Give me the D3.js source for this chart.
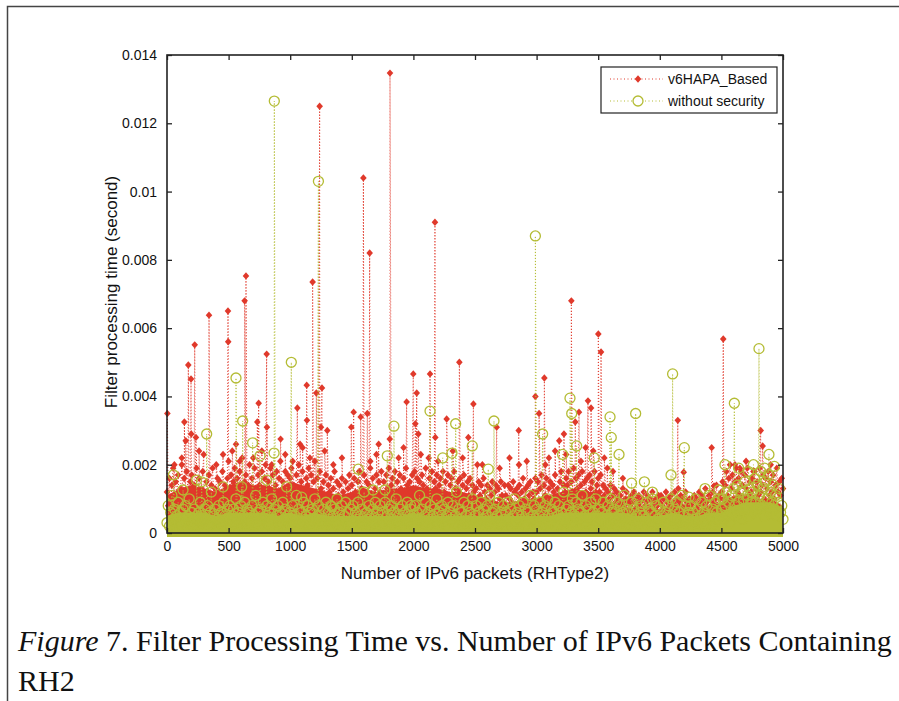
<!DOCTYPE html>
<html>
<head>
<meta charset="utf-8">
<script src="https://cdn.jsdelivr.net/npm/d3@7"></script>
<style>
  body { margin: 0; background: #fff; }
  svg { display: block; }
</style>
</head>
<body>
<script>
// values, times in milliseconds
// base band: one reading every 10 packets
var baseStep = 10;

var redBaseMs = [
  1.2,0.8,1.6,0.7,1.4,1.9,0.9,1.5,1.1,1.7,0.6,1.3,2.0,1.0,1.6,0.8,1.8,1.2,0.9,1.5,1.7,0.7,1.4,1.1,1.9,
  1.0,1.6,0.8,1.3,1.8,1.1,0.7,1.5,1.2,1.7,0.9,1.4,1.9,1.0,1.3,0.8,1.6,1.2,1.5,0.7,1.8,1.1,1.4,0.9,1.6,
  2.1,1.2,1.7,0.9,1.5,1.9,1.1,1.6,0.8,1.8,1.3,2.2,1.0,1.5,1.7,0.9,1.4,2.0,1.2,1.6,0.8,1.9,1.3,1.1,1.7,
  1.4,0.9,1.8,1.2,1.6,2.0,1.0,1.5,1.3,1.9,0.8,1.7,1.1,1.4,1.8,1.0,1.6,2.1,1.2,1.5,0.9,1.8,1.3,1.7,1.0,
  1.6,1.9,1.1,1.4,0.8,1.7,1.3,2.0,1.0,1.5,1.8,1.2,0.9,1.6,1.4,1.9,1.1,1.7,0.8,1.5,2.1,1.2,1.6,1.0,1.8,
  1.3,0.9,1.5,1.1,1.7,0.8,1.4,1.2,1.6,1.0,1.3,1.8,0.9,1.5,1.1,1.4,0.7,1.6,1.2,1.0,1.5,0.8,1.3,1.7,1.1,
  1.4,1.0,1.6,1.2,0.8,1.5,1.8,1.1,1.3,0.9,1.7,1.2,1.5,1.0,1.4,1.9,1.1,1.6,0.8,1.3,1.7,1.0,1.5,1.2,1.8,
  1.1,1.5,0.9,1.7,1.3,1.9,1.0,1.4,1.6,0.8,1.8,1.2,1.5,1.0,1.7,1.3,0.9,1.6,1.1,1.9,1.4,1.0,1.5,1.2,1.7,
  1.3,1.8,1.0,1.6,1.2,1.5,0.9,1.7,1.4,1.1,1.9,1.3,0.8,1.6,1.2,1.8,1.0,1.5,1.3,1.7,0.9,1.4,1.6,1.1,1.8,
  1.2,1.5,0.9,1.7,1.1,1.4,1.6,1.0,1.8,1.3,0.8,1.5,1.2,1.6,1.0,1.4,1.7,0.9,1.3,1.5,1.1,1.6,1.0,1.4,1.2,
  1.0,1.3,0.8,1.5,1.1,1.4,0.9,1.6,1.2,1.0,1.4,0.7,1.3,1.1,1.5,0.9,1.2,1.4,0.8,1.3,1.0,1.5,1.1,0.9,1.4,
  1.1,0.8,1.4,1.0,1.3,0.9,1.5,1.2,0.7,1.3,1.1,1.4,0.9,1.2,1.6,1.0,1.3,0.8,1.4,1.1,1.5,0.9,1.2,1.0,1.6,
  1.2,1.5,0.9,1.3,1.7,1.0,1.4,1.1,1.6,0.8,1.3,1.5,1.0,1.4,1.2,1.7,0.9,1.3,1.1,1.5,1.8,1.0,1.4,1.2,1.6,
  1.4,1.8,1.1,1.5,1.2,1.9,1.0,1.6,1.3,1.7,1.1,1.4,1.8,1.0,1.5,1.2,1.6,0.9,1.7,1.3,1.5,1.1,1.8,1.2,1.4,
  1.6,1.2,1.7,1.0,1.4,1.1,1.3,0.9,1.2,1.0,1.4,0.8,1.1,1.3,0.9,1.2,1.0,0.8,1.1,0.9,1.3,0.8,1.0,1.2,0.9,
  1.0,0.8,1.1,0.9,1.2,0.7,1.0,0.8,1.1,0.9,0.7,1.0,1.2,0.8,0.9,1.1,0.7,1.0,0.8,1.2,0.9,0.7,1.0,0.8,1.1,
  0.9,1.1,0.8,1.0,0.7,1.2,0.9,1.0,0.8,1.1,0.7,0.9,1.2,0.8,1.0,1.3,0.9,1.1,0.8,1.0,0.7,1.2,0.9,0.8,1.0,
  0.8,1.0,0.9,1.1,0.7,1.0,0.8,1.2,0.9,1.1,0.8,1.0,1.3,0.9,0.7,1.1,1.0,0.8,1.2,0.9,1.0,1.4,0.8,1.1,1.0,
  1.2,1.5,1.0,1.4,1.8,1.1,1.6,2.0,1.3,1.7,1.0,1.5,1.9,1.2,1.6,1.1,1.8,1.4,1.0,1.7,1.3,1.9,1.1,1.5,1.2,
  1.6,1.0,1.8,1.3,1.5,1.1,1.9,1.2,1.4,1.7,1.0,1.6,1.3,1.8,1.1,1.5,1.2,1.7,1.0,1.4,1.9,1.2,1.5,1.1,1.6,
  1.3
];

var greenBaseMs = [
  0.3,0.8,0.2,0.6,1.1,0.4,0.7,0.1,0.5,0.9,0.3,0.6,0.2,0.7,0.4,0.8,0.1,0.5,1.0,0.3,0.6,0.2,0.7,0.4,0.5,
  0.2,0.6,0.9,0.3,0.5,0.1,0.7,0.4,0.8,0.2,0.6,1.2,0.3,0.5,0.7,0.1,0.4,0.8,0.3,0.6,0.2,0.9,0.5,0.1,0.7,
  0.4,0.8,0.2,0.5,0.7,0.3,1.0,0.1,0.6,0.4,0.8,0.2,0.5,0.9,0.3,0.7,0.1,0.6,0.4,0.8,0.2,0.5,1.1,0.3,0.6,
  0.2,0.7,0.4,0.9,0.1,0.5,0.8,0.3,0.6,0.2,1.0,0.4,0.7,0.1,0.5,0.8,0.3,0.6,0.2,0.9,0.4,0.7,0.1,0.5,0.3,
  0.6,0.2,0.8,0.4,0.5,1.1,0.1,0.7,0.3,0.6,0.2,0.9,0.4,0.5,0.8,0.1,0.6,0.3,0.7,0.2,1.0,0.4,0.5,0.8,0.3,
  0.5,0.1,0.7,0.3,0.9,0.2,0.6,0.4,0.8,0.1,0.5,0.7,0.3,1.0,0.2,0.6,0.4,0.8,0.1,0.5,0.9,0.3,0.6,0.2,0.7,
  0.3,0.8,0.1,0.6,0.4,0.9,0.2,0.5,0.7,0.3,1.2,0.1,0.6,0.4,0.8,0.2,0.5,0.7,0.3,0.9,0.1,0.6,0.4,0.8,0.2,
  0.6,0.3,0.9,0.1,0.5,0.7,0.2,0.8,0.4,0.6,0.1,1.0,0.3,0.5,0.7,0.2,0.8,0.4,0.6,0.1,0.9,0.3,0.5,0.7,0.2,
  0.5,0.8,0.2,0.6,0.4,1.1,0.1,0.7,0.3,0.5,0.9,0.2,0.6,0.4,0.8,0.1,0.5,0.7,0.3,1.0,0.2,0.6,0.4,0.8,0.3,
  0.7,0.2,0.5,0.9,0.1,0.6,0.4,0.8,0.3,0.5,1.2,0.2,0.7,0.4,0.6,0.1,0.9,0.3,0.5,0.8,0.2,0.6,0.4,1.0,0.1,
  0.5,0.8,0.3,0.6,0.2,0.9,0.4,0.7,0.1,0.5,0.8,0.3,1.1,0.2,0.6,0.4,0.7,0.1,0.5,0.9,0.3,0.6,0.2,0.8,0.4,
  0.6,0.1,0.9,0.4,0.7,0.2,0.5,1.0,0.3,0.6,0.1,0.8,0.4,0.5,0.9,0.2,0.7,0.3,0.6,0.1,1.1,0.4,0.5,0.8,0.2,
  0.7,0.3,0.5,0.9,0.1,0.6,0.4,0.8,0.2,1.0,0.5,0.3,0.7,0.1,0.6,0.9,0.2,0.5,0.8,0.4,0.6,0.1,1.2,0.3,0.7,
  0.4,0.8,0.2,0.6,1.0,0.3,0.5,0.9,0.1,0.7,0.4,0.6,1.1,0.2,0.5,0.8,0.3,0.7,0.1,0.9,0.4,0.6,0.2,1.0,0.5,
  0.3,0.7,0.1,0.6,0.9,0.4,0.5,0.2,0.8,0.3,1.0,0.6,0.1,0.7,0.4,0.9,0.2,0.5,0.8,0.3,0.6,1.1,0.2,0.7,0.4,
  0.6,0.2,0.9,0.4,0.7,0.1,0.5,1.0,0.3,0.6,0.8,0.2,0.5,0.4,0.9,0.1,0.7,0.3,0.6,1.0,0.2,0.5,0.8,0.4,0.3,
  0.7,0.1,0.5,0.9,0.3,0.6,0.2,0.8,0.4,1.0,0.5,0.1,0.7,0.3,0.9,0.4,0.6,0.2,1.1,0.5,0.3,0.8,0.1,0.6,0.4,
  0.8,0.2,0.6,0.4,1.0,0.3,0.7,0.1,0.5,0.9,0.3,0.6,0.2,0.8,0.4,1.1,0.5,0.2,0.7,0.3,0.9,0.6,0.4,1.0,0.5,
  0.7,1.0,0.4,0.8,1.2,0.5,0.9,0.3,1.1,0.6,1.3,0.8,0.5,1.4,0.9,0.6,1.2,0.4,1.0,1.5,0.7,1.1,0.5,1.3,0.9,
  1.2,0.6,1.6,0.9,1.4,0.7,1.1,1.8,0.8,1.3,0.5,1.5,1.0,1.7,0.6,1.2,0.9,1.4,0.7,1.1,0.5,0.9,1.3,0.6,0.8,
  0.4
];

// where the markers pile up into a solid band: upper edge every 100 packets
var bandStep = 100;
var redBandTopMs = [
  1.1,1.3,1.4,1.3,1.2,1.4,1.5,1.4,1.4,1.3,1.5,1.4,1.3,1.2,1.1,1.2,1.3,1.2,1.3,1.3,
  1.4,1.3,1.3,1.2,1.2,1.1,1.0,0.9,0.9,1.0,1.0,1.1,1.2,1.3,1.2,1.2,0.9,0.8,0.7,0.7,
  0.7,0.8,0.7,0.7,0.8,0.9,1.1,1.1,1.0,1.0,0.8
];
var greenBandTopMs = [
  0.5,0.6,0.6,0.6,0.5,0.6,0.6,0.6,0.6,0.5,0.6,0.5,0.6,0.5,0.5,0.5,0.5,0.5,0.5,0.5,
  0.6,0.5,0.5,0.5,0.5,0.5,0.5,0.5,0.5,0.5,0.5,0.5,0.6,0.6,0.6,0.6,0.6,0.6,0.5,0.5,
  0.5,0.6,0.5,0.5,0.6,0.6,0.8,0.9,0.9,0.9,0.7
];

// single readings above the band: [packet, ms]
var redSpikes = [
  [3,3.5],[60,2.0],[120,2.2],[141,3.25],[152,2.7],[173,4.92],[195,4.51],[197,2.9],[225,5.51],[235,2.8],
  [260,2.4],[298,2.3],[341,6.38],[400,2.0],[455,2.3],[495,6.5],[497,5.6],[530,2.4],[560,2.6],[590,2.1],
  [630,6.8],[641,7.53],[700,2.2],[733,3.25],[744,3.8],[770,2.4],[809,5.24],[811,3.1],[850,2.0],[922,2.75],
  [960,2.3],[1020,2.1],[1058,3.66],[1080,2.6],[1101,2.5],[1134,4.33],[1136,3.3],[1160,2.2],[1182,7.35],
  [1212,4.1],[1239,12.5],[1250,3.1],[1258,4.25],[1280,2.4],[1301,3.0],[1350,2.0],[1420,2.2],[1496,3.1],
  [1515,3.54],[1572,3.4],[1594,10.4],[1626,3.5],[1645,8.2],[1650,2.1],[1700,2.3],[1718,2.6],[1808,2.75],
  [1810,13.47],[1880,2.2],[1920,2.5],[1945,3.84],[1999,4.66],[2016,3.2],[2027,4.1],[2040,2.9],[2060,2.3],
  [2124,2.2],[2135,4.66],[2175,9.1],[2178,2.8],[2200,2.1],[2270,3.34],[2320,2.4],[2373,5.0],[2400,2.2],
  [2446,2.8],[2487,3.78],[2519,2.0],[2560,2.0],[2676,3.1],[2700,1.9],[2780,2.2],[2855,3.0],[2857,2.0],
  [2920,2.1],[2990,4.0],[3020,3.5],[3063,4.54],[3071,2.0],[3100,2.2],[3150,2.4],[3184,2.7],[3222,2.9],
  [3240,2.3],[3282,6.8],[3314,3.25],[3344,3.54],[3360,2.1],[3398,2.5],[3417,3.87],[3442,3.66],[3460,2.4],
  [3501,5.83],[3523,5.3],[3550,2.2],[3574,1.9],[3620,1.8],[3700,1.6],[4146,3.3],[4194,1.78],[4421,2.5],
  [4440,1.38],[4515,5.68],[4610,2.0],[4650,1.9],[4700,2.1],[4760,1.8],[4819,3.0],[4835,2.55],[4900,2.0]
];

var greenSpikes = [
  [52,1.7],[130,1.26],[240,1.55],[280,1.5],[322,2.9],[455,1.35],[560,4.54],[606,1.35],[614,3.28],
  [695,2.64],[755,2.26],[809,1.55],[869,2.34],[871,12.65],[971,1.35],[1009,5.0],[1093,1.05],[1229,10.3],
  [1337,0.77],[1553,1.87],[1672,1.26],[1769,1.26],[1788,2.26],[1842,3.13],[1978,0.8],[2135,3.57],
  [2238,2.2],[2313,2.34],[2343,3.2],[2478,2.55],[2608,1.87],[2654,3.28],[2990,8.7],[3049,2.9],[3211,2.3],
  [3271,3.95],[3285,3.5],[3325,2.55],[3468,2.2],[3596,3.4],[3606,2.8],[3669,2.3],[3771,1.46],[3804,3.5],
  [3875,1.5],[3940,1.2],[4091,1.7],[4104,4.66],[4199,2.5],[4237,1.05],[4367,1.3],[4480,1.26],[4529,2.0],
  [4605,3.8],[4640,1.9],[4720,1.8],[4760,2.0],[4805,5.4],[4850,1.9],[4886,2.3],[4930,1.95]
];

var seriesNames = ["v6HAPA_Based", "without security"];
var xTicks = [0, 500, 1000, 1500, 2000, 2500, 3000, 3500, 4000, 4500, 5000];
var yTicks = [0, 0.002, 0.004, 0.006, 0.008, 0.01, 0.012, 0.014];
var yTickLabels = ["0", "0.002", "0.004", "0.006", "0.008", "0.01", "0.012", "0.014"];

var red = "#e0392b";
var green = "#b4bc34";

var w = 899, h = 701;
var pLeft = 167, pRight = 783, pTop = 55, pBottom = 533;

var svg = d3.select("body").append("svg").attr("width", w).attr("height", h)
  .style("font-family", "'Liberation Sans', Arial, sans-serif");

svg.append("rect").attr("width", w).attr("height", h).attr("fill", "#fff");

// page frame
svg.append("path").attr("d", "M7.5," + h + "V6.5H" + w)
  .attr("fill", "none").attr("stroke", "#444").attr("stroke-width", 1.5);

var x = d3.scaleLinear().domain([0, 5000]).range([pLeft, pRight]);
var y = d3.scaleLinear().domain([0, 0.014]).range([pBottom, pTop]);

function build(base, spikes) {
  var pts = base.map(function(v, i) { return { p: i * baseStep, s: v / 1000 }; });
  spikes.forEach(function(d) { pts.push({ p: d[0], s: d[1] / 1000 }); });
  pts.sort(function(a, b) { return a.p - b.p; });
  return pts;
}

var redPts = build(redBaseMs, redSpikes);
var greenPts = build(greenBaseMs, greenSpikes);

var line = d3.line().x(function(d) { return x(d.p); }).y(function(d) { return y(d.s); });
// band: markers at ~0 reach a few pixels under the axis
var band = d3.area()
  .x(function(d, i) { return x(i * bandStep); })
  .y0(y(0) + 4)
  .y1(function(d) { return y(d / 1000); });
var diamond = "M0,-3.7L3.3,0L0,3.7L-3.3,0Z";

var plot = svg.append("g");

// series 1
plot.append("path").datum(redBandTopMs).attr("d", band).attr("fill", red);
plot.append("path").datum(redPts).attr("d", line)
  .attr("fill", "none").attr("stroke", red).attr("stroke-width", 1)
  .attr("stroke-dasharray", "1,2");
plot.selectAll(".rd").data(redPts).enter().append("path")
  .attr("class", "rd")
  .attr("d", diamond)
  .attr("transform", function(d) { return "translate(" + x(d.p) + "," + y(d.s) + ")"; })
  .attr("fill", red);

// series 2
plot.append("path").datum(greenBandTopMs).attr("d", band).attr("fill", green);
plot.append("path").datum(greenPts).attr("d", line)
  .attr("fill", "none").attr("stroke", green).attr("stroke-width", 1)
  .attr("stroke-dasharray", "1,2");
plot.selectAll(".gc").data(greenPts).enter().append("circle")
  .attr("class", "gc")
  .attr("cx", function(d) { return x(d.p); })
  .attr("cy", function(d) { return y(d.s); })
  .attr("r", 5)
  .attr("fill", "none").attr("stroke", green).attr("stroke-width", 1.3);

// axes, matlab style ticks pointing in
function styleAxis(g) {
  g.selectAll(".domain").remove();
  g.selectAll("line").attr("stroke", "#222").attr("stroke-width", 1.3);
  g.selectAll("text").attr("fill", "#111").style("font-size", "14px");
}

svg.append("g").attr("transform", "translate(0," + pBottom + ")")
  .call(d3.axisBottom(x).tickValues(xTicks).tickSize(-5).tickPadding(8).tickFormat(d3.format("d")))
  .call(styleAxis);
svg.append("g").attr("transform", "translate(0," + pTop + ")")
  .call(d3.axisTop(x).tickValues(xTicks).tickSize(-5).tickFormat(""))
  .call(styleAxis);
svg.append("g").attr("transform", "translate(" + pLeft + ",0)")
  .call(d3.axisLeft(y).tickValues(yTicks).tickSize(-5).tickPadding(10)
    .tickFormat(function(d, i) { return yTickLabels[i]; }))
  .call(styleAxis);
svg.append("g").attr("transform", "translate(" + pRight + ",0)")
  .call(d3.axisRight(y).tickValues(yTicks).tickSize(-5).tickFormat(""))
  .call(styleAxis);

svg.append("rect").attr("x", pLeft).attr("y", pTop)
  .attr("width", pRight - pLeft).attr("height", pBottom - pTop)
  .attr("fill", "none").attr("stroke", "#222").attr("stroke-width", 1.6);

svg.append("text").attr("x", (pLeft + pRight) / 2).attr("y", 579)
  .attr("text-anchor", "middle").style("font-size", "17px").attr("fill", "#111")
  .text("Number of IPv6 packets (RHType2)");
svg.append("text").attr("transform", "translate(117," + ((pTop + pBottom) / 2 - 2) + ") rotate(-90)")
  .attr("text-anchor", "middle").style("font-size", "17px").attr("fill", "#111")
  .text("Filter processing time (second)");

// legend
var lg = svg.append("g").attr("transform", "translate(601,67)");
lg.append("rect").attr("width", 176).attr("height", 46)
  .attr("fill", "#fff").attr("stroke", "#222").attr("stroke-width", 1.2);
seriesNames.forEach(function(name, i) {
  var yy = 12 + i * 22;
  var c = i === 0 ? red : green;
  lg.append("line").attr("x1", 9).attr("x2", 62).attr("y1", yy).attr("y2", yy)
    .attr("stroke", c).attr("stroke-width", 1).attr("stroke-dasharray", "1,2.5");
  if (i === 0) {
    lg.append("path").attr("d", diamond).attr("transform", "translate(37," + yy + ")").attr("fill", c);
  } else {
    lg.append("circle").attr("cx", 37).attr("cy", yy).attr("r", 5)
      .attr("fill", "#fff").attr("stroke", c).attr("stroke-width", 1.3);
  }
  lg.append("text").attr("x", 67).attr("y", yy + 5).style("font-size", "14px").attr("fill", "#111")
    .text(name);
});

// caption
var cap = svg.append("text").attr("x", 18).attr("y", 651)
  .style("font-family", "'Liberation Serif', 'Times New Roman', serif").style("font-size", "30px")
  .attr("fill", "#111");
cap.append("tspan").style("font-style", "italic").text("Figure");
cap.append("tspan").text(" 7. Filter Processing Time vs. Number of IPv6 Packets Containing");
svg.append("text").attr("x", 18).attr("y", 691)
  .style("font-family", "'Liberation Serif', 'Times New Roman', serif").style("font-size", "30px")
  .attr("fill", "#111").text("RH2");
</script>
</body>
</html>
